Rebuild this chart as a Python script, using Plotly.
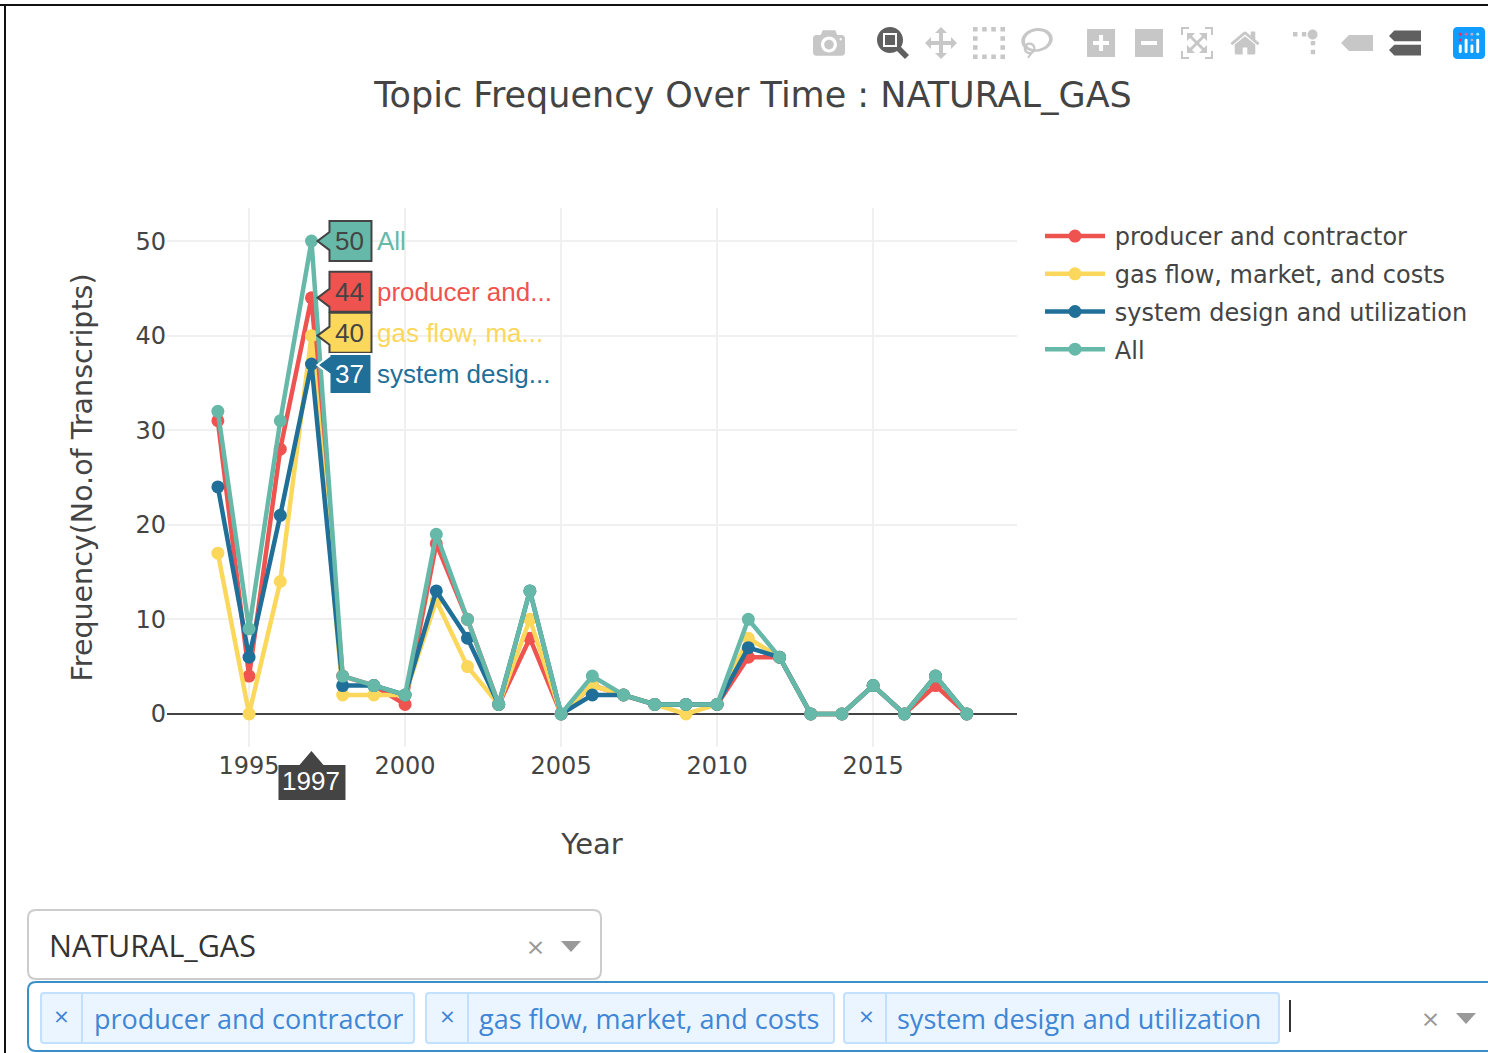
import plotly.graph_objects as go

YEARS = list(range(1994, 2019))
PRODUCER = [31, 4, 28, 44, 4, 3, 1, 18, 10, 1, 8, 0, 3, 2, 1, 1, 1, 6, 6, 0, 0, 3, 0, 3, 0]
GAS = [17, 0, 14, 40, 2, 2, 2, 12, 5, 1, 10, 0, 3, 2, 1, 0, 1, 8, 6, 0, 0, 3, 0, 4, 0]
SYSTEM = [24, 6, 21, 37, 3, 3, 2, 13, 8, 1, 13, 0, 2, 2, 1, 1, 1, 7, 6, 0, 0, 3, 0, 4, 0]
ALL = [32, 9, 31, 50, 4, 3, 2, 19, 10, 1, 13, 0, 4, 2, 1, 1, 1, 10, 6, 0, 0, 3, 0, 4, 0]
NAMES = ["producer and contractor", "gas flow, market, and costs", "system design and utilization", "All"]
SHORT = ["producer and...", "gas flow, ma...", "system desig...", "All"]
COLORS = ["#EF5350", "#FBD75B", "#1F6F98", "#66B9A8"]
SERIES = [PRODUCER, GAS, SYSTEM, ALL]
HOVER_YEAR = 1997
TITLE = "Topic Frequency Over Time : NATURAL_GAS"
TOPIC = "NATURAL_GAS"

L, R, T, B = 167, 1017, 208, 747
TXT = "#444444"
BLUE = "#3F86D6"

fig = go.Figure()
for n, c, v in zip(NAMES, COLORS, SERIES):
    fig.add_trace(go.Scatter(x=YEARS, y=v, name="\u2009" + n, legendgroup=n, mode="lines+markers",
                             line=dict(color=c, width=4.5), marker=dict(color=c, size=13)))

shapes, annos = [], []


def xp(px):
    return (px - L) / (R - L)


def yp(py):
    return (B - py) / (B - T)


def pixel_path(path, fill, line=None, width=1):
    shapes.append(dict(type="path", xref="paper", yref="paper", xsizemode="pixel", ysizemode="pixel",
                       xanchor=0, yanchor=0, path=path, fillcolor=fill,
                       line=dict(color=line or "rgba(0,0,0,0)", width=width if line else 0), layer="above"))


def X(px):
    return px - L


def Y(py):
    return B - py


def rrect(x0, y0, x1, y1, r, fill, line, width=2):
    p = (f"M{X(x0+r)},{Y(y0)} L{X(x1-r)},{Y(y0)} Q{X(x1)},{Y(y0)} {X(x1)},{Y(y0+r)} "
         f"L{X(x1)},{Y(y1-r)} Q{X(x1)},{Y(y1)} {X(x1-r)},{Y(y1)} L{X(x0+r)},{Y(y1)} "
         f"Q{X(x0)},{Y(y1)} {X(x0)},{Y(y1-r)} L{X(x0)},{Y(y0+r)} Q{X(x0)},{Y(y0)} {X(x0+r)},{Y(y0)} Z")
    pixel_path(p, fill, line, width)


def tri(cx, cy, fill="#999999"):
    pixel_path(f"M{X(cx-10)},{Y(cy-5)} L{X(cx+10)},{Y(cy-5)} L{X(cx)},{Y(cy+6)} Z", fill)


def text(px, py, s, size, color, font="Open Sans", anchor="left"):
    annos.append(dict(xref="paper", yref="paper", x=xp(px), y=yp(py), text=s, showarrow=False,
                      xanchor=anchor, yanchor="middle", borderpad=0,
                      font=dict(family=font, size=size, color=color)))


# page border
shapes.append(dict(type="line", xref="paper", yref="paper", x0=xp(0), x1=xp(1488), y0=yp(5), y1=yp(5),
                   line=dict(color="#111111", width=2)))
shapes.append(dict(type="line", xref="paper", yref="paper", x0=xp(5), x1=xp(5), y0=yp(5), y1=yp(1053),
                   line=dict(color="#111111", width=2)))

# hover labels on the hovered year
idx = YEARS.index(HOVER_YEAR)
order = [(3, 0), (0, 6), (1, 3), (2, -10)]
for si, cshift in order:
    val = SERIES[si][idx]
    col = COLORS[si]
    top, bot = cshift + 20, cshift - 20
    t = 0 if si != 2 else -1
    p = f"M6,{t} L18,{t+9} L18,{top} L60,{top} L60,{bot} L18,{bot} L18,{t-9} Z"
    shapes.append(dict(type="path", xref="x", yref="y", xsizemode="pixel", ysizemode="pixel",
                       xanchor=HOVER_YEAR, yanchor=val, path=p, fillcolor=col,
                       line=dict(color="#444444" if si != 2 else "#ffffff", width=2), layer="above"))
    annos.append(dict(xref="x", yref="y", x=HOVER_YEAR, y=val, text=str(val), showarrow=False,
                      xanchor="center", yanchor="middle", xshift=38, yshift=cshift, borderpad=0,
                      font=dict(family="Liberation Sans", size=26, color="#ffffff" if si == 2 else "#444444")))
    annos.append(dict(xref="x", yref="y", x=HOVER_YEAR, y=val, text=SHORT[si], showarrow=False,
                      xanchor="left", yanchor="middle", xshift=65, yshift=cshift, borderpad=0,
                      font=dict(family="Liberation Sans", size=26, color=col)))

# hover label on the x axis
shapes.append(dict(type="path", xref="x", yref="paper", xsizemode="pixel", xanchor=HOVER_YEAR,
                   ysizemode="pixel", yanchor=0,
                   path="M0,-4 L-12,-18 L-33,-18 L-33,-53 L34,-53 L34,-18 L12,-18 Z",
                   fillcolor="#444444", line=dict(width=0), layer="above"))
annos.append(dict(xref="x", yref="paper", x=HOVER_YEAR, y=yp(781), text=str(HOVER_YEAR), showarrow=False,
                  xanchor="center", yanchor="middle", borderpad=0,
                  font=dict(family="Liberation Sans", size=26, color="#ffffff")))

# topic dropdown
rrect(28, 910, 601, 979, 8, "#ffffff", "#cccccc")
text(48, 945, TOPIC, 30.5, "#333333")
text(535, 946, "×", 30, "#999999", anchor="center")
tri(571, 946)

# focused multi-select
rrect(28, 982, 1500, 1051, 8, "#ffffff", "#3A8FC8", 2)
for x0, x1, div, sx, lbl, tx in [(41, 414, 82, 61, NAMES[0], 93), (426, 834, 468, 447, NAMES[1], 478),
                                 (844, 1279, 886, 866, NAMES[2], 896)]:
    rrect(x0, 993, x1, 1043, 3, "#EBF5FF", "#C2E0FF")
    shapes.append(dict(type="line", xref="paper", yref="paper", x0=xp(div), x1=xp(div), y0=yp(993), y1=yp(1043),
                       line=dict(color="#C2E0FF", width=2), layer="above"))
    text(sx, 1016, "×", 26, BLUE, anchor="center")
    text(tx, 1018, lbl, 27, BLUE)
shapes.append(dict(type="line", xref="paper", yref="paper", x0=xp(1290), x1=xp(1290), y0=yp(1000), y1=yp(1032),
                   line=dict(color="#333333", width=2), layer="above"))
text(1430, 1018, "×", 30, "#999999", anchor="center")
tri(1466, 1018)

fig.update_layout(
    width=1488, height=1053, autosize=False,
    paper_bgcolor="#ffffff", plot_bgcolor="#ffffff",
    margin=dict(l=L, r=1488 - R, t=T, b=1053 - B, pad=0),
    font=dict(family="DejaVu Sans", color=TXT, size=24),
    title=dict(text=TITLE, x=753 / 1488, y=1 - 95 / 1053, xanchor="center", yanchor="middle",
               xref="container", yref="container", font=dict(family="DejaVu Sans", size=35, color=TXT)),
    xaxis=dict(range=[1992.37, 2019.61], tick0=1995, dtick=5, showgrid=True, gridcolor="#f0f0f0", gridwidth=2,
               zeroline=False, ticks="", tickfont=dict(size=24, color=TXT), ticklabelstandoff=2,
               title=dict(text="Year", standoff=54, font=dict(size=29, color=TXT))),
    yaxis=dict(range=[-3.5, 53.5], tick0=0, dtick=10, showgrid=True, gridcolor="#f0f0f0", gridwidth=2,
               zeroline=True, zerolinecolor="#444444", zerolinewidth=2, ticks="",
               tickfont=dict(size=24, color=TXT),
               title=dict(text="Frequency(No.of Transcripts)", standoff=34, font=dict(size=28.5, color=TXT))),
    legend=dict(x=xp(1040), y=yp(214), xanchor="left", yanchor="top", itemwidth=60, tracegroupgap=3.5,
                font=dict(size=24, color=TXT), bgcolor="rgba(255,255,255,0)"),
    modebar=dict(color="rgba(68,68,68,0.3)", activecolor="rgba(68,68,68,0.85)", bgcolor="rgba(255,255,255,0)"),
    dragmode="zoom", hovermode="x",
    shapes=shapes, annotations=annos,
)

post = """
document.body.style.margin='0';
document.body.style.overflow='hidden';
var s=document.createElement('style');
s.textContent='.modebar{transform:scale(2);transform-origin:top right;top:21px !important;right:-5px !important;opacity:1 !important}.modebar-container{opacity:1 !important}.modebar-btn--logo svg rect, .modebar-btn[data-title*="Plotly"] svg rect{fill:#119DFF !important}';
document.head.appendChild(s);
"""
fig.write_html("out.html", post_script=post, config=dict(
    displayModeBar=True, displaylogo=True, responsive=False,
    modeBarButtons=[["toImage"], ["zoom2d", "pan2d", "select2d", "lasso2d"],
                    ["zoomIn2d", "zoomOut2d", "autoScale2d", "resetScale2d"],
                    ["toggleSpikelines", "hoverClosestCartesian", "hoverCompareCartesian"]]))
